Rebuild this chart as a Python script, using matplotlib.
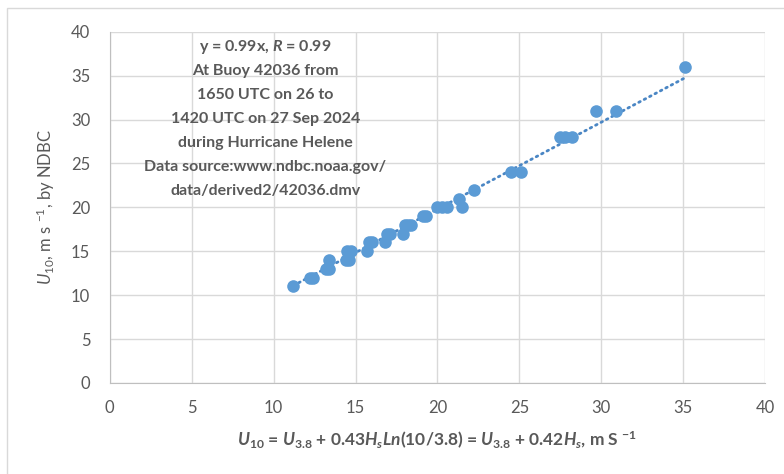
import numpy as np
import matplotlib.pyplot as plt
from matplotlib.patches import Rectangle

plt.rcParams['font.family'] = ['Lato', 'DejaVu Sans']
plt.rcParams['mathtext.fontset'] = 'custom'
plt.rcParams['mathtext.rm'] = 'Lato:bold'
plt.rcParams['mathtext.it'] = 'Lato:italic:bold'
plt.rcParams['mathtext.bf'] = 'Lato:bold'
plt.rcParams['mathtext.sf'] = 'Lato'
plt.rcParams['mathtext.cal'] = 'Lato:italic'

# U10 from the 3.8 m wind plus wave height correction (x) vs NDBC U10 (y)
u10_calc = [11.2, 12.2, 12.4, 13.2, 13.4, 13.4, 14.4, 14.6, 14.5, 14.7,
            15.7, 15.8, 16.0, 16.8, 16.9, 17.1, 17.9, 18.0, 18.2, 18.4,
            19.1, 19.3, 20.0, 20.3, 20.6, 21.3, 21.5, 22.2, 24.5, 25.1,
            27.5, 27.8, 28.2, 29.7, 30.9, 35.1]
u10_ndbc = [11, 12, 12, 13, 13, 14, 14, 14, 15, 15,
            15, 16, 16, 16, 17, 17, 17, 18, 18, 18,
            19, 19, 20, 20, 20, 21, 20, 22, 24, 24,
            28, 28, 28, 31, 31, 36]
slope = 0.99

ticks = [0, 5, 10, 15, 20, 25, 30, 35, 40]
note_lines = ["y = 0.99x, $\\mathit{R}$ = 0.99",
              "At Buoy 42036 from",
              "1650 UTC on 26 to",
              "1420 UTC on 27 Sep 2024",
              "during Hurricane Helene",
              "Data source:www.ndbc.noaa.gov/",
              "data/derived2/42036.dmv"]

gray = '#595959'
blue = '#5B9BD5'

fig = plt.figure(figsize=(7.84, 4.74), dpi=100)
# thin outer chart frame
fig.patches.append(Rectangle((0.009, -0.1), 1.2, 1.083, transform=fig.transFigure,
                             fill=False, edgecolor='#D9D9D9', linewidth=1))
ax = fig.add_axes([0.140, 0.192, 0.836, 0.741])

ax.scatter(u10_calc, u10_ndbc, s=82, color=blue, zorder=3, linewidths=0)

# linear fit through the origin
xs = np.array([min(u10_calc), max(u10_calc)])
ax.plot(xs, slope * xs, color='#4A86C4', linewidth=2, linestyle=(0, (0.6, 1.6)),
        dash_capstyle='round', zorder=2)

ax.set_xlim(0, 40)
ax.set_ylim(0, 40)
ax.set_xticks(ticks)
ax.set_yticks(ticks)
ax.grid(True, color='#D9D9D9', linewidth=1)
ax.set_axisbelow(True)
for side in ['top', 'right']:
    ax.spines[side].set_visible(False)
for side in ['left', 'bottom']:
    ax.spines[side].set_color('#BFBFBF')
ax.tick_params(length=0, labelsize=12, labelcolor=gray)
ax.tick_params(axis='y', pad=14)
ax.tick_params(axis='x', pad=12)

# annotation block, one line every 24 px
for i, line in enumerate(note_lines):
    ax.annotate(line, xy=(9.5, 40), xytext=(0, -11.3 - 24 * i * 0.72),
                textcoords='offset points', ha='center', va='center',
                fontsize=11.5, fontweight='bold', color=gray)

ax.set_ylabel('$\\mathcal{U}_{\\mathsf{10}}$, m s $^{\\mathsf{-1}}$, by NDBC',
              fontsize=12, color=gray, labelpad=10)
ax.set_xlabel('$U_{10}$ = $U_{3.8}$ + 0.43$H_{s}$$Ln$(10/3.8)'
              ' = $U_{3.8}$ + 0.42$H_{s}$, m S $^{-1}$',
              fontsize=12.5, fontweight='bold', color=gray, labelpad=10)

fig.savefig('out.png', dpi=100)
